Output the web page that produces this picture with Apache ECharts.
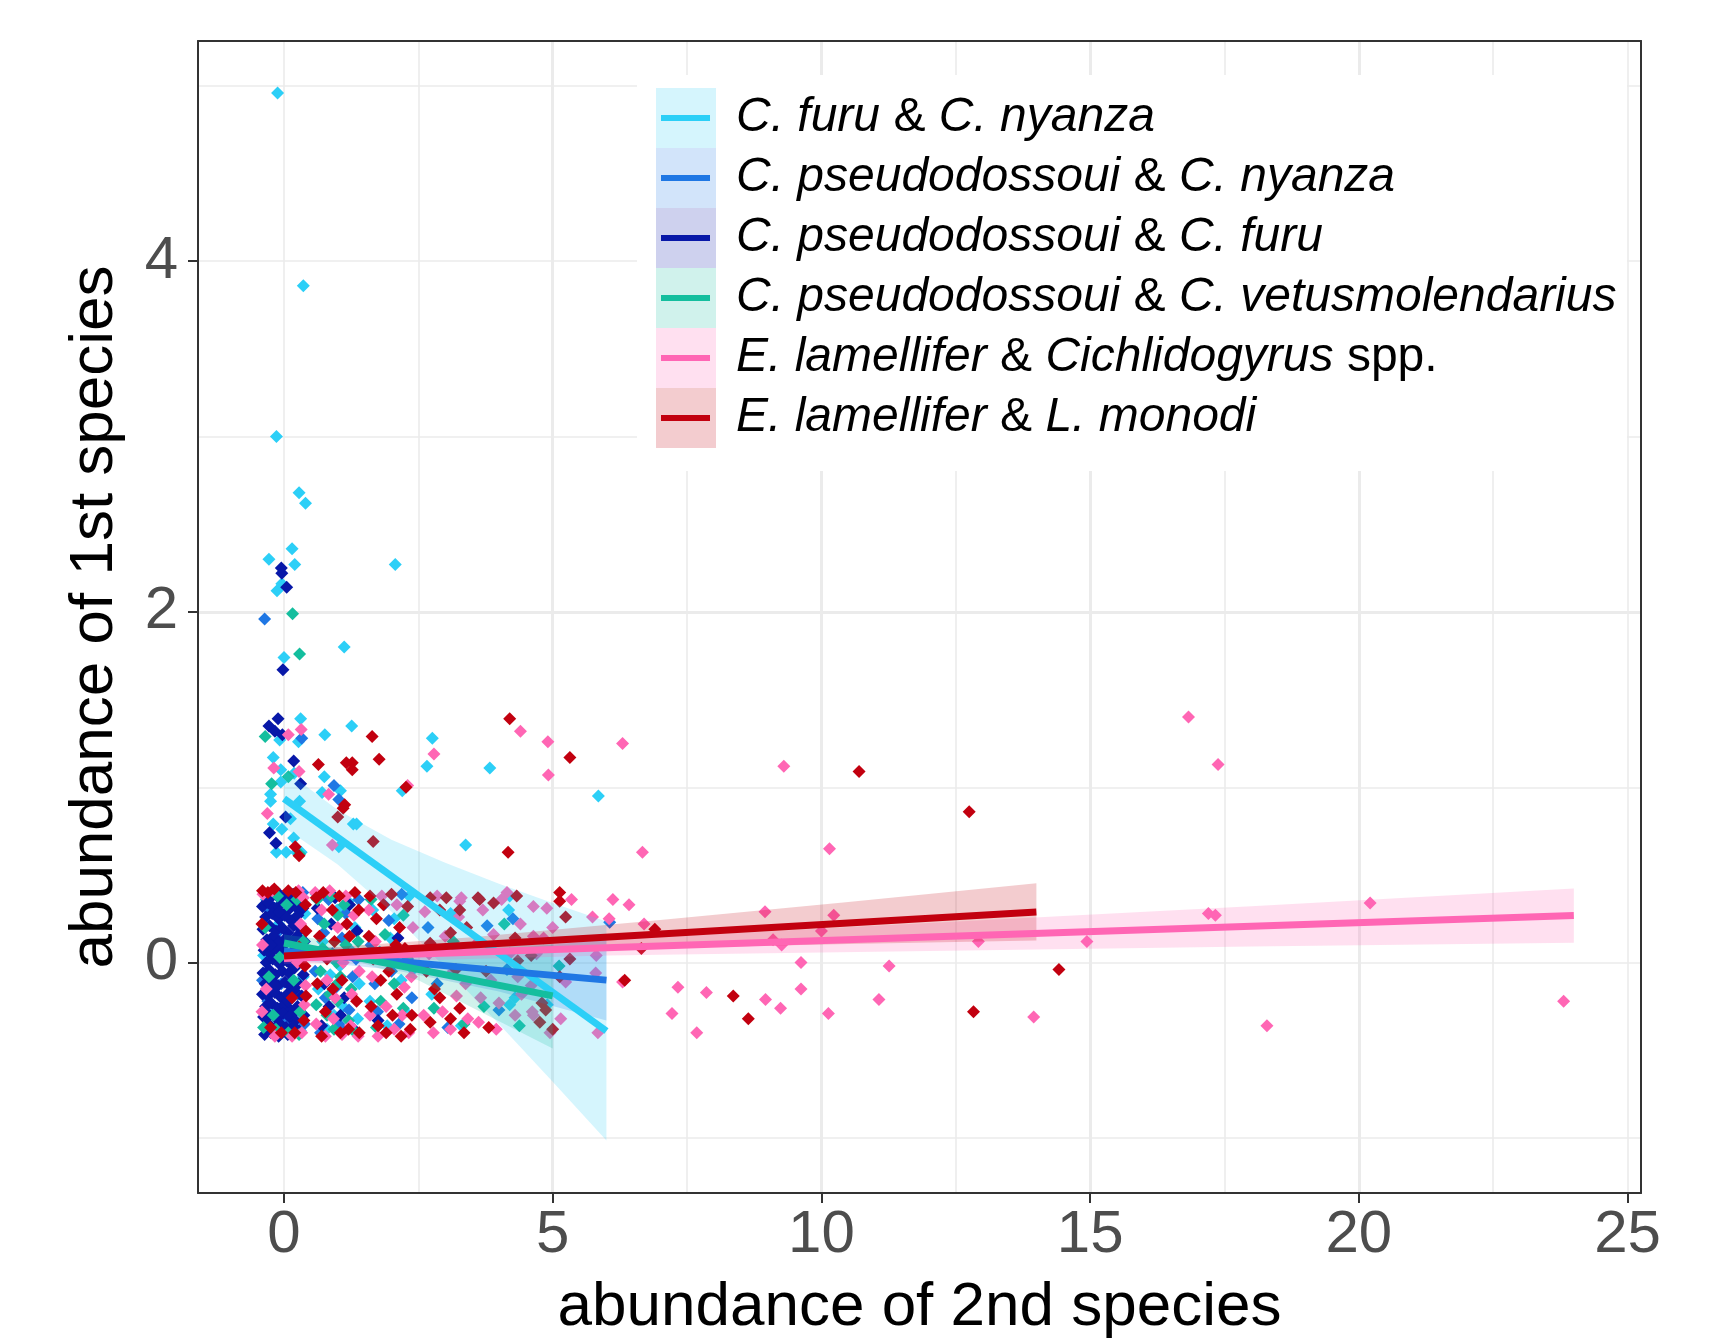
<!DOCTYPE html>
<html><head><meta charset="utf-8">
<script src="https://cdn.jsdelivr.net/npm/echarts@6/dist/echarts.min.js"></script>
<style>html,body{margin:0;padding:0;background:#fff}#c{width:1727px;height:1344px}</style>
</head><body><div id="c"></div>
<script>
const FONT = '"Liberation Sans", Arial, Helvetica, sans-serif';

const seriesNames = [
  'C. furu & C. nyanza',
  'C. pseudodossoui & C. nyanza',
  'C. pseudodossoui & C. furu',
  'C. pseudodossoui & C. vetusmolendarius',
  'E. lamellifer & Cichlidogyrus spp.',
  'E. lamellifer & L. monodi'
];
const legendLabels = [
  '{i|C. furu} & {i|C. nyanza}',
  '{i|C. pseudodossoui} & {i|C. nyanza}',
  '{i|C. pseudodossoui} & {i|C. furu}',
  '{i|C. pseudodossoui} & {i|C. vetusmolendarius}',
  '{i|E. lamellifer} & {i|Cichlidogyrus} spp.',
  '{i|E. lamellifer} & {i|L. monodi}'
];
const seriesColors = ['#2CCFF7', '#1F77E4', '#0818A8', '#14BE9E', '#FF66B4', '#C2000F'];

const xTicks = [0, 5, 10, 15, 20, 25];
const yTicks = [0, 2, 4];

// points: [abundance of 2nd species (jittered), abundance of 1st species (jittered)]
const ptsFuruNyanza = [
  [-0.12,4.96],[0.36,3.86],[-0.14,3.00],[0.28,2.68],[0.40,2.62],[0.15,2.36],[-0.28,2.30],[0.20,2.27],[2.07,2.27],
  [-0.13,2.12],[-0.04,2.16],[1.12,1.80],[0.00,1.74],[0.31,1.39],[-0.08,1.27],[0.27,1.26],[0.76,1.30],[1.26,1.35],
  [-0.20,1.17],[-0.06,1.10],[0.19,1.08],[-0.06,1.03],[0.75,1.06],[1.05,0.98],[2.20,0.98],[2.76,1.28],[2.66,1.12],
  [3.83,1.11],[-0.25,0.96],[-0.25,0.92],[0.71,0.97],[0.29,0.92],[0.12,0.82],[-0.20,0.79],[-0.04,0.76],[1.29,0.79],
  [1.35,0.79],[0.18,0.71],[-0.14,0.63],[0.04,0.63],[0.23,0.63],[0.32,0.63],[1.02,0.66],[3.38,0.67],[5.85,0.95],
  [-0.33,0.36],[-0.10,0.22],[0.28,0.15],[0.36,-0.08],[-0.22,-0.29],[0.14,-0.36],[0.31,-0.39],[-0.38,0.04],[0.22,0.39],
  [0.05,-0.21],[0.39,0.28],[-0.15,0.31],
  [0.60,0.39],[0.72,0.12],[0.86,-0.07],[0.99,0.30],[1.10,-0.25],[1.24,0.07],[1.37,-0.32],[0.64,-0.15],[0.80,-0.38],
  [1.04,-0.02],[1.19,0.35],[1.32,0.20],[0.93,-0.30],[1.40,-0.12],
  [1.60,-0.22],[1.78,0.06],[1.92,-0.36],[2.05,0.25],[2.18,-0.10],[2.33,0.38],[1.65,0.30],[2.26,-0.28],[1.98,0.14],[2.40,-0.04],
  [2.75,-0.18],[3.10,0.28],[3.30,-0.36],
  [4.20,0.38],[4.18,0.30],[4.30,-0.20],[4.20,-0.24],[4.90,-0.24]
];
const ptsPseudoNyanza = [
  [-0.36,1.96],[0.33,1.28],[0.93,1.01],[1.02,0.93],
  [-0.37,0.33],[-0.20,0.08],[0.10,0.36],[0.33,0.05],[-0.30,-0.22],[0.03,-0.33],[0.26,-0.18],[-0.12,0.17],[0.38,-0.35],
  [-0.40,-0.10],[0.19,0.25],[-0.05,-0.12],[0.35,0.40],[-0.26,0.29],
  [0.63,0.25],[0.77,-0.20],[0.90,0.05],[1.02,-0.35],[1.15,0.28],[1.28,-0.08],[1.39,0.36],[0.68,-0.40],[0.83,0.36],
  [0.97,-0.14],[1.08,0.14],[1.21,-0.27],[1.34,0.02],[0.58,-0.05],[1.12,-0.39],[0.74,0.17],
  [1.62,0.10],[1.74,-0.28],[1.86,0.33],[2.00,-0.05],[2.14,-0.35],[2.19,0.39],[2.30,0.02],[1.69,-0.12],[2.38,-0.20],[1.95,0.24],
  [2.68,0.20],[3.05,-0.37],[3.22,0.08],[2.85,-0.12],
  [3.78,0.21],[4.26,0.25],[4.00,-0.27],[4.15,-0.04],[6.06,0.23]
];
const ptsPseudoFuru = [
  [-0.05,2.25],[-0.04,2.22],[0.05,2.14],[-0.02,1.67],[-0.11,1.39],[-0.28,1.35],[-0.17,1.32],[-0.03,1.30],[0.18,1.15],
  [0.31,1.02],[0.03,0.83],[-0.27,0.74],[-0.15,0.68],
  [-0.36,0.39],[-0.25,0.37],[-0.12,0.40],[0.03,0.38],[0.17,0.39],[0.29,0.36],
  [-0.40,0.32],[-0.29,0.34],[-0.18,0.31],[-0.07,0.33],[0.08,0.30],[0.21,0.32],[0.35,0.31],
  [-0.34,0.26],[-0.22,0.28],[-0.10,0.25],[0.01,0.27],[0.13,0.24],[0.26,0.27],
  [-0.39,0.19],[-0.27,0.21],[-0.15,0.18],[-0.04,0.20],[0.07,0.17],[0.18,0.21],[0.31,0.19],
  [-0.32,0.13],[-0.20,0.15],[-0.09,0.12],[0.04,0.14],[0.15,0.11],[0.24,0.15],[0.38,0.12],
  [-0.37,0.07],[-0.26,0.05],[-0.13,0.08],[-0.02,0.06],[0.11,0.04],[0.22,0.08],
  [-0.33,0.00],[-0.21,0.02],[-0.08,-0.01],[0.05,0.01],[0.16,-0.02],[0.30,0.01],
  [-0.39,-0.06],[-0.28,-0.04],[-0.16,-0.07],[-0.03,-0.05],[0.09,-0.06],[0.20,-0.03],[0.36,-0.07],
  [-0.35,-0.12],[-0.23,-0.10],[-0.11,-0.13],[0.02,-0.11],[0.14,-0.14],[0.27,-0.12],
  [-0.40,-0.18],[-0.30,-0.19],[-0.17,-0.17],[-0.05,-0.20],[0.06,-0.18],[0.19,-0.16],[0.33,-0.19],
  [-0.34,-0.25],[-0.24,-0.23],[-0.12,-0.26],[0.00,-0.24],[0.12,-0.27],[0.25,-0.25],
  [-0.38,-0.31],[-0.27,-0.30],[-0.14,-0.32],[-0.02,-0.29],[0.10,-0.31],[0.21,-0.33],[0.37,-0.30],
  [-0.32,-0.36],[-0.20,-0.38],[-0.07,-0.35],[0.04,-0.37],[0.17,-0.36],[0.28,-0.39],
  [-0.36,-0.41],[-0.24,-0.40],[-0.10,-0.42],[0.07,-0.41],
  [-0.31,0.35],[-0.06,0.36],[0.12,0.34],[-0.24,0.10],[0.00,0.10],[-0.19,-0.14],[0.08,-0.22],[-0.29,-0.35],[-0.09,0.29],[0.20,-0.28],
  [0.62,0.31],[0.75,-0.12],[0.88,0.22],[1.05,-0.30],[1.18,0.05],[1.30,-0.38],[0.70,-0.36],[0.95,0.37],[1.12,-0.20],
  [1.36,0.18],[0.84,-0.25],[1.22,0.33],
  [1.75,-0.33],[2.12,0.14]
];
const ptsPseudoVetus = [
  [0.16,1.99],[0.29,1.76],[-0.35,1.29],[0.08,1.06],[-0.23,1.02],[0.29,0.62],
  [-0.35,0.20],[-0.15,-0.38],[0.12,0.04],[0.30,-0.28],[-0.28,-0.08],[0.05,0.33],[0.24,0.36],[-0.38,-0.37],[0.18,-0.10],
  [-0.08,0.03],[0.36,0.12],[-0.20,-0.30],[0.08,-0.40],[0.28,-0.41],[-0.12,0.38],
  [0.62,0.36],[0.75,0.22],[0.88,0.38],[1.00,0.27],[1.12,0.33],[0.68,-0.05],[0.98,0.00],[0.99,-0.12],[1.00,-0.22],
  [1.05,-0.08],[0.80,-0.30],[0.93,-0.38],[1.20,-0.33],[1.33,-0.40],[0.60,-0.24],[1.38,0.12],[1.25,-0.15],[0.72,0.08],
  [0.85,-0.18],[1.15,0.10],
  [1.72,-0.37],[2.22,0.27],[2.22,-0.26],[1.88,0.16],[2.05,-0.12],[1.62,0.36],[2.35,0.05],[1.80,-0.22],
  [2.79,-0.26],[3.15,0.12],[3.35,-0.35],
  [3.72,-0.25],[4.10,0.22],[4.38,-0.36],[5.12,-0.02]
];
const ptsLamCichl = [
  [0.08,1.30],[0.32,1.33],[-0.19,1.11],[0.28,1.09],[0.83,0.96],[-0.31,0.85],[0.90,0.67],[2.30,1.01],[2.79,1.19],
  [4.40,1.32],[4.91,1.26],[4.92,1.07],[6.30,1.25],[6.67,0.63],[9.30,1.12],[10.15,0.65],[16.83,1.40],[17.38,1.13],
  [6.12,0.36],[6.42,0.33],[6.05,0.25],[6.70,0.22],[8.95,0.29],[10.23,0.27],[10.00,0.18],[9.26,0.10],[9.10,0.13],
  [12.92,0.12],[14.94,0.12],[9.62,0.00],[11.26,-0.02],[6.30,-0.11],[7.33,-0.14],[7.86,-0.17],[8.96,-0.21],[9.62,-0.15],
  [11.07,-0.21],[7.22,-0.29],[9.24,-0.26],[10.13,-0.29],[13.95,-0.31],[7.68,-0.40],[17.20,0.28],[17.33,0.27],[20.21,0.34],
  [18.29,-0.36],[23.81,-0.22],
  [5.74,0.26],[5.81,0.04],[5.80,-0.06],[5.24,-0.11],[5.84,-0.40],[4.64,0.32],[4.89,0.31],[4.64,0.15],[4.83,0.14],
  [4.35,-0.08],[4.60,-0.13],[4.64,-0.30],[4.05,0.36],[3.90,0.16],[4.00,-0.23],[3.62,-0.34],
  [-0.39,0.39],[-0.22,0.41],[0.36,0.37],[0.40,0.05],[0.38,-0.24],[0.33,-0.40],[-0.41,-0.28],[-0.40,0.10],[0.27,0.41],
  [-0.17,-0.42],[0.15,-0.42],[0.40,-0.13],[0.25,0.00],[-0.33,-0.15],[0.31,0.22],
  [0.58,0.40],[0.70,0.30],[0.85,0.41],[1.00,0.20],[1.15,0.38],[1.30,0.27],[0.64,0.05],[0.80,-0.10],[0.95,-0.20],
  [1.10,0.00],[1.26,-0.18],[1.40,-0.05],[0.60,-0.35],[0.77,-0.42],[0.92,-0.32],[1.08,-0.41],[1.24,-0.36],[1.38,-0.42],
  [1.58,0.30],[1.70,0.12],[1.82,0.38],[1.96,0.02],[2.10,0.33],[2.24,-0.14],[2.37,-0.08],[2.40,0.20],[1.60,-0.30],
  [1.75,-0.42],[1.90,-0.25],[2.05,-0.38],[2.20,-0.30],[2.32,-0.40],[1.64,-0.08],
  [2.62,0.29],[3.27,0.35],[3.30,0.37],[3.25,0.26],[2.70,0.05],[2.85,0.38],[3.00,0.15],[3.15,-0.05],[3.21,-0.19],
  [2.60,-0.30],[2.78,-0.40],[2.95,-0.28],[3.10,-0.38],[3.38,-0.12],[3.42,-0.32],
  [3.62,0.12],[3.70,0.30],[3.85,-0.10],[4.20,0.05],[4.30,-0.30],[4.40,0.22],[3.95,-0.38],[4.15,0.40],[4.42,-0.18],[3.66,-0.20],
  [4.62,-0.28],[4.70,0.05],[5.00,0.20],[5.15,-0.32],[5.35,0.36],[4.95,-0.40]
];
const ptsLamMonodi = [
  [1.64,1.29],[0.64,1.13],[1.16,1.14],[1.27,1.14],[1.27,1.10],[1.77,1.16],[2.27,1.00],[4.20,1.39],[1.13,0.90],
  [1.10,0.88],[1.00,0.83],[1.66,0.69],[0.21,0.66],[0.28,0.61],[4.17,0.63],[5.32,1.17],[10.70,1.09],[12.75,0.86],
  [6.90,0.19],[6.65,0.08],[14.42,-0.04],[6.34,-0.10],[8.36,-0.19],[8.64,-0.32],[12.83,-0.28],[5.13,0.40],[5.13,0.35],[5.24,0.26],
  [3.64,0.36],[3.90,0.34],[4.33,0.38],[4.30,0.14],[5.32,0.02],[4.35,0.01],[4.60,0.04],[3.76,-0.05],[5.13,-0.08],
  [4.80,-0.23],[4.87,-0.27],[4.76,-0.34],[5.00,-0.38],[3.81,-0.37],[3.61,0.37],
  [2.72,0.37],[3.02,0.37],[3.27,0.30],[2.90,0.30],[3.10,0.17],[2.72,0.11],[3.20,-0.04],[2.80,-0.15],[2.90,-0.20],
  [3.27,-0.26],[3.10,-0.32],[2.72,-0.34],[3.40,0.20],[2.65,-0.05],[3.35,-0.40],
  [1.60,0.38],[1.72,0.25],[1.85,0.33],[2.00,0.39],[2.15,0.20],[2.30,0.32],[1.66,0.02],[1.80,-0.10],[1.95,-0.05],
  [2.10,-0.18],[2.25,0.08],[2.38,-0.30],[1.62,-0.25],[1.75,-0.36],[1.90,-0.40],[2.02,-0.30],[2.18,-0.42],[2.35,-0.38],
  [1.58,0.15],[2.08,0.10],
  [0.60,0.37],[0.73,0.40],[0.90,0.30],[1.03,0.38],[1.17,0.22],[1.32,0.40],[0.66,0.15],[0.80,0.02],[0.94,0.12],
  [1.08,-0.10],[1.22,0.15],[1.39,0.30],[0.62,-0.12],[0.77,-0.28],[0.91,-0.15],[1.05,-0.40],[1.20,-0.38],[1.35,-0.22],
  [0.70,-0.42],[1.40,-0.40],
  [-0.40,0.41],[-0.30,0.40],[-0.18,0.42],[0.08,0.41],[0.22,0.40],[0.40,0.33],[0.41,0.18],[0.39,-0.02],[0.41,-0.19],
  [0.37,-0.33],[0.20,-0.40],[-0.05,-0.40],[-0.25,-0.37],[-0.41,0.22],[0.28,0.09],[0.15,-0.20]
];

// linear fits (start, end) and confidence bands [x, lower, upper]
const fitFuruNyanza = [[0, 0.935], [6, -0.39]];
const fitPseudoNyanza = [[0, 0.065], [6, -0.10]];
const fitPseudoVetus = [[0, 0.112], [5, -0.19]];
const fitLamCichl = [[0, 0.024], [24, 0.268]];
const fitLamMonodi = [[0, 0.037], [14, 0.289]];

const bandFuruNyanza = [[0,0.77,1.10],[1,0.56,0.87],[2,0.29,0.70],[3,-0.03,0.57],[4,-0.35,0.45],[5,-0.68,0.34],[6,-1.015,0.235]];
const bandPseudoNyanza = [[0,0.02,0.11],[2,-0.04,0.06],[4,-0.165,0.075],[6,-0.33,0.13]];
const bandPseudoVetus = [[0,0.06,0.16],[1,0.04,0.12],[2.5,-0.10,0.06],[5,-0.49,0.11]];
const bandLamCichl = [[0,-0.006,0.054],[6,0.04,0.13],[12,0.066,0.226],[18,0.092,0.322],[24,0.113,0.423]];
const bandLamMonodi = [[0,0.007,0.067],[3.5,0.055,0.145],[7,0.083,0.243],[10.5,0.106,0.346],[14,0.126,0.452]];

const allPts = [ptsFuruNyanza, ptsPseudoNyanza, ptsPseudoFuru, ptsPseudoVetus, ptsLamCichl, ptsLamMonodi];
const fits = [fitFuruNyanza, fitPseudoNyanza, null, fitPseudoVetus, fitLamCichl, fitLamMonodi];
const bands = [bandFuruNyanza, bandPseudoNyanza, null, bandPseudoVetus, bandLamCichl, bandLamMonodi];

function lighten(hex, a) {
  const n = parseInt(hex.slice(1), 16);
  const r = (n >> 16) & 255, g = (n >> 8) & 255, b = n & 255;
  const f = v => Math.round(255 - a * (255 - v));
  return 'rgb(' + f(r) + ',' + f(g) + ',' + f(b) + ')';
}

const series = [];
allPts.forEach((pts, i) => {
  series.push({
    type: 'scatter', name: seriesNames[i], data: pts,
    symbol: 'diamond', symbolSize: 13, z: 2,
    itemStyle: { color: seriesColors[i], opacity: 1 },
    emphasis: { disabled: true }, silent: true
  });
});
bands.forEach((band, i) => {
  if (!band) return;
  series.push({
    type: 'custom', name: 'band' + i, data: band, z: 3, silent: true, clip: true,
    encode: { x: 0, y: [1, 2] },
    renderItem: function (params, api) {
      if (params.dataIndex !== 0) return null;
      const top = [], bot = [];
      band.forEach(r => { top.push(api.coord([r[0], r[2]])); bot.push(api.coord([r[0], r[1]])); });
      return { type: 'polygon', shape: { points: top.concat(bot.reverse()) },
               style: { fill: seriesColors[i], opacity: 0.2 } };
    }
  });
  series.push({
    type: 'line', name: 'fit' + i, data: fits[i], z: 3, silent: true,
    showSymbol: false, symbol: 'none',
    lineStyle: { color: seriesColors[i], width: 7 }
  });
});

const legendTop = 88, rowH = 60;
const graphics = [
  { type: 'rect', left: 637, top: 75, shape: { width: 990, height: 396 }, style: { fill: '#fff' }, z: 5, silent: true }
];
seriesColors.forEach((c, i) => {
  graphics.push({ type: 'rect', left: 661, top: legendTop + rowH * i + rowH / 2 - 3,
    shape: { width: 49, height: 6 }, style: { fill: c }, z: 7, silent: true });
});

const option = {
  animation: false,
  backgroundColor: '#fff',
  grid: { left: 198, top: 41, width: 1443, height: 1157, show: false, containLabel: false },
  xAxis: [
    {
      type: 'value', min: -1.6, max: 25.25, minInterval: 5, maxInterval: 5, position: 'bottom',
      name: 'abundance of 2nd species', nameLocation: 'middle', nameGap: 84,
      nameTextStyle: { fontFamily: FONT, fontSize: 62, color: '#000' },
      axisLine: { show: true, onZero: false, lineStyle: { color: '#333', width: 2 } },
      axisTick: { show: true, length: 10, customValues: xTicks, lineStyle: { color: '#333', width: 2 } },
      axisLabel: { show: true, customValues: xTicks, margin: 12, fontFamily: FONT, fontSize: 60, color: '#4D4D4D' },
      splitLine: { show: true, showMinLine: false, showMaxLine: false, lineStyle: { color: '#EBEBEB', width: 3 } }
    },
    {
      type: 'value', min: -1.6, max: 25.25, minInterval: 2.5, maxInterval: 2.5, position: 'top',
      axisLine: { show: true, onZero: false, lineStyle: { color: '#333', width: 2 } },
      axisTick: { show: false }, axisLabel: { show: false },
      splitLine: { show: true, showMinLine: false, showMaxLine: false, lineStyle: { color: '#EBEBEB', width: 1.6 } }
    }
  ],
  yAxis: [
    {
      type: 'value', min: -1.314, max: 5.256, minInterval: 2, maxInterval: 2, position: 'left',
      name: 'abundance of 1st species', nameLocation: 'middle', nameGap: 72,
      nameTextStyle: { fontFamily: FONT, fontSize: 62, color: '#000' },
      axisLine: { show: true, onZero: false, lineStyle: { color: '#333', width: 2 } },
      axisTick: { show: true, length: 10, customValues: yTicks, lineStyle: { color: '#333', width: 2 } },
      axisLabel: { show: true, customValues: yTicks, margin: 20, fontFamily: FONT, fontSize: 60, color: '#4D4D4D' },
      splitLine: { show: true, showMinLine: false, showMaxLine: false, lineStyle: { color: '#EBEBEB', width: 3 } }
    },
    {
      type: 'value', min: -1.314, max: 5.256, minInterval: 1, maxInterval: 1, position: 'right',
      axisLine: { show: true, onZero: false, lineStyle: { color: '#333', width: 2 } },
      axisTick: { show: false }, axisLabel: { show: false },
      splitLine: { show: true, showMinLine: false, showMaxLine: false, lineStyle: { color: '#EBEBEB', width: 1.6 } }
    }
  ],
  legend: {
    orient: 'vertical', left: 656, top: legendTop, itemGap: 0, itemWidth: 60, itemHeight: rowH,
    icon: 'rect', selectedMode: false, z: 6, padding: 0,
    formatter: function (name) { return legendLabels[seriesNames.indexOf(name)]; },
    textStyle: {
      fontFamily: FONT, fontSize: 48, color: '#000', padding: [0, 0, 0, 15],
      rich: { i: { fontFamily: FONT, fontSize: 48, fontStyle: 'italic', color: '#000' } }
    },
    data: seriesNames.map((n, i) => ({ name: n, itemStyle: { color: lighten(seriesColors[i], 0.2), opacity: 1 } }))
  },
  graphic: graphics,
  series: series
};

const chart = echarts.init(document.getElementById('c'), null, { renderer: 'canvas' });
chart.setOption(option);
</script>
</body></html>
